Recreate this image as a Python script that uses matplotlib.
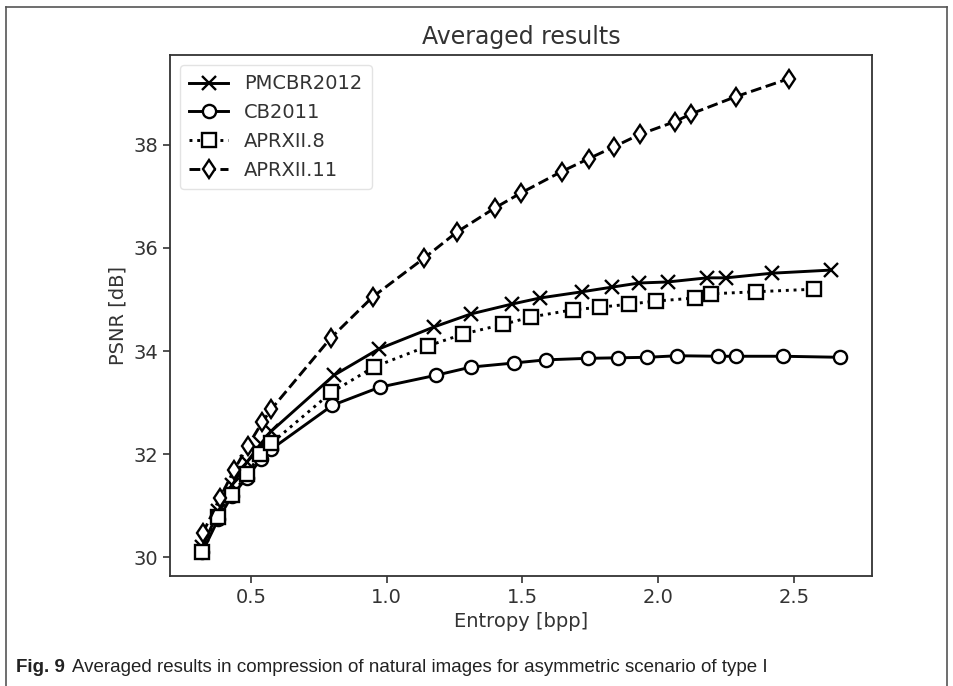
import matplotlib
matplotlib.use('Agg')
import matplotlib.pyplot as plt
from matplotlib.lines import Line2D

# PMCBR2012
pm_x = [0.32, 0.38, 0.43, 0.485, 0.535, 0.575, 0.805, 0.97, 1.175, 1.31, 1.46, 1.565, 1.72,
        1.83, 1.93, 2.035, 2.18, 2.25, 2.42, 2.635]
pm_y = [30.2, 30.9, 31.4, 31.85, 32.2, 32.45, 33.53, 34.04, 34.47, 34.72, 34.91, 35.03, 35.15,
        35.24, 35.32, 35.34, 35.42, 35.42, 35.51, 35.57]

# CB2011
cb_x = [0.32, 0.38, 0.43, 0.485, 0.535, 0.575, 0.80, 0.974, 1.18, 1.31, 1.47, 1.585, 1.74,
        1.85, 1.96, 2.07, 2.22, 2.285, 2.46, 2.67]
cb_y = [30.1, 30.75, 31.2, 31.55, 31.9, 32.1, 32.95, 33.3, 33.53, 33.69, 33.77, 33.83, 33.86,
        33.87, 33.88, 33.91, 33.90, 33.90, 33.90, 33.88]

# APRXII.8
a8_x = [0.319, 0.378, 0.43, 0.485, 0.533, 0.574, 0.796, 0.952, 1.152, 1.281, 1.43, 1.53, 1.685,
        1.785, 1.893, 1.993, 2.137, 2.193, 2.359, 2.574]
a8_y = [30.1, 30.78, 31.22, 31.61, 32.0, 32.21, 33.2, 33.69, 34.1, 34.33, 34.52, 34.66, 34.8,
        34.85, 34.91, 34.97, 35.03, 35.11, 35.15, 35.2]

# APRXII.11
a11_x = [0.322, 0.385, 0.437, 0.489, 0.541, 0.574, 0.793, 0.948, 1.137, 1.259, 1.40, 1.496, 1.644,
         1.744, 1.837, 1.932, 2.063, 2.122, 2.285, 2.481]
a11_y = [30.47, 31.15, 31.69, 32.17, 32.62, 32.87, 34.25, 35.05, 35.8, 36.31, 36.78, 37.07, 37.48,
         37.73, 37.96, 38.2, 38.45, 38.6, 38.93, 39.28]

txt = '#333333'
fig = plt.figure(figsize=(9.54, 6.86), dpi=100)
ax = fig.add_axes([170 / 954, 1 - 576 / 686, 702 / 954, 521 / 686])

lw = 2.1
ms = 9.5
ax.plot(pm_x, pm_y, color='black', ls='-', lw=lw, marker='x', ms=ms, mew=1.7, label='PMCBR2012')
ax.plot(cb_x, cb_y, color='black', ls='-', lw=lw, marker='o', ms=ms, mfc='white', mew=1.7,
        label='CB2011')
ax.plot(a8_x, a8_y, color='black', ls=':', lw=lw, marker='s', ms=ms, mfc='white', mew=1.7,
        label='APRXII.8')
ax.plot(a11_x, a11_y, color='black', ls='--', lw=lw, marker='d', ms=ms, mfc='white', mew=1.7,
        label='APRXII.11')

ax.set_xticks([0.5, 1.0, 1.5, 2.0, 2.5])
ax.set_yticks([30, 32, 34, 36, 38])
ax.tick_params(labelsize=14, colors=txt, length=5, width=1.2)
for s in ax.spines.values():
    s.set_color('#333333')
    s.set_linewidth(1.3)

ax.set_xlabel('Entropy [bpp]', fontsize=14, color=txt)
ax.set_ylabel('PSNR [dB]', fontsize=14, color=txt)
ax.set_title('Averaged results', fontsize=17, color=txt, pad=8)

leg = ax.legend(loc='upper left', fontsize=14, handlelength=2.0, borderpad=0.5)
leg.get_frame().set_edgecolor('#dddddd')
for t in leg.get_texts():
    t.set_color(txt)

# outer frame of the journal figure
fig.add_artist(Line2D([6 / 954, 6 / 954], [0, 1 - 7 / 686], color='#555555', lw=1.2))
fig.add_artist(Line2D([6 / 954, 947 / 954], [1 - 7 / 686, 1 - 7 / 686], color='#555555', lw=1.2))
fig.add_artist(Line2D([947 / 954, 947 / 954], [0, 1 - 7 / 686], color='#555555', lw=1.2))

cap_font = ['Liberation Sans Narrow', 'Liberation Sans', 'DejaVu Sans']
t1 = fig.text(16 / 954, 1 - 667 / 686, 'Fig. 9', fontsize=13.5, fontweight='bold',
              family=cap_font, va='center', color='#222222')
ax.annotate('Averaged results in compression of natural images for asymmetric scenario of type I',
            xy=(1, 0.5), xycoords=t1, xytext=(5, 0), textcoords='offset points',
            fontsize=13.5, family=cap_font, va='center', color='#222222', annotation_clip=False)

fig.savefig('out.png', dpi=100)
